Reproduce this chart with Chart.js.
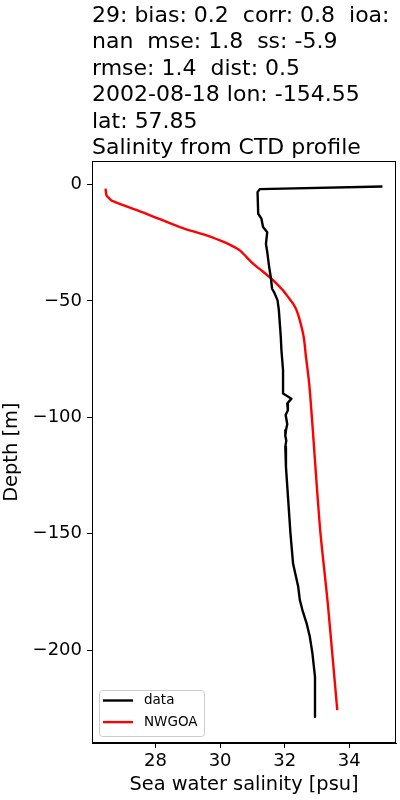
<!DOCTYPE html>
<html>
<head>
<meta charset="utf-8">
<script src="https://cdn.jsdelivr.net/npm/chart.js@4/dist/chart.umd.min.js"></script>
<style>
  html, body { margin: 0; padding: 0; background: #fff; }
  canvas { display: block; }
</style>
</head>
<body>
<canvas id="profileChart" width="400" height="800"></canvas>
<script>
// observed CTD profile (salinity vs depth)
const dataDepth = [-0.9, -2.0, -3.3, -12.6, -14.7, -18.3, -20.5, -25.5, -29, -35.5, -39.8, -44.8, -46.2, -49.8, -54, -59.8, -65.5, -71.2, -79.8, -89.8, -92, -94.1, -97, -99, -101.3, -103, -105.6, -108, -110, -112.7, -121.3, -135.6, -149.9, -162.8, -172.8, -178.5, -182.8, -188.5, -194.3, -201.4, -211.5, -228.6];
const dataSal = [35.03, 31.23, 31.16, 31.18, 31.28, 31.33, 31.46, 31.42, 31.46, 31.52, 31.57, 31.61, 31.67, 31.78, 31.82, 31.85, 31.88, 31.90, 31.95, 31.95, 32.21, 32.08, 32.10, 32.03, 32.06, 32.08, 32.04, 32.02, 32.05, 32.02, 32.04, 32.11, 32.18, 32.26, 32.42, 32.47, 32.55, 32.68, 32.78, 32.86, 32.94, 32.94];

// NWGOA model profile
const modelDepth = [-1.8, -4.7, -5.8, -7.2, -12.6, -18.3, -21.9, -25.2, -26.6, -28.3, -31.2, -34, -36.9, -40.5, -42.6, -45.5, -48.4, -51.2, -54.1, -58.4, -65.5, -74, -85.5, -107, -128.5, -149.9, -168.5, -182, -225.8];
const modelSal = [26.45, 26.48, 26.55, 26.68, 27.72, 28.75, 29.58, 30.2, 30.4, 30.61, 30.82, 31.02, 31.28, 31.59, 31.75, 31.95, 32.11, 32.26, 32.37, 32.47, 32.59, 32.66, 32.76, 32.88, 32.99, 33.11, 33.25, 33.35, 33.63];

const seriesNames = ["data", "NWGOA"];
const seriesColors = ["#000000", "#ff0000"];

const xTicks = [28, 30, 32, 34];
const yTicks = [0, -50, -100, -150, -200];

const titleLines = [
    "29: bias: 0.2  corr: 0.8  ioa:",
    "nan  mse: 1.8  ss: -5.9",
    "rmse: 1.4  dist: 0.5",
    "2002-08-18 lon: -154.55",
    "lat: 57.85",
    "Salinity from CTD profile"
];

const FONT = "'DejaVu Sans', sans-serif";
const LW = 2.4;

function toPoints(sal, depth) {
    return sal.map((s, i) => ({ x: s, y: depth[i] }));
}

// box around the axes + legend in lower left, like matplotlib
const framePlugin = {
    id: "frame",
    afterDraw(chart) {
        const c = chart.ctx;
        const a = chart.chartArea;
        c.save();
        c.strokeStyle = "#000";
        c.lineWidth = 1;
        c.strokeRect(Math.round(a.left) + 0.5, Math.round(a.top) + 0.5,
            Math.round(a.right - a.left) - 1, Math.round(a.bottom - a.top) - 1);

        // legend
        const bx = a.left + 7, by = a.bottom - 53, bw = 105, bh = 46;
        c.fillStyle = "rgba(255,255,255,0.8)";
        c.strokeStyle = "#cccccc";
        c.beginPath();
        c.roundRect(bx + 0.5, by + 0.5, bw, bh, 3);
        c.fill();
        c.stroke();
        c.font = "13.5px " + FONT;
        c.textBaseline = "middle";
        seriesNames.forEach((name, i) => {
            const ly = by + 10.5 + i * 21.6;
            c.strokeStyle = seriesColors[i];
            c.lineWidth = LW;
            c.beginPath();
            c.moveTo(bx + 4, ly);
            c.lineTo(bx + 34, ly);
            c.stroke();
            c.fillStyle = "#000";
            c.fillText(name, bx + 45, ly);
        });
        c.restore();
    }
};

const minus = v => String(v).replace("-", "\u2212");

new Chart(document.getElementById("profileChart"), {
    type: "scatter",
    data: {
        datasets: [
            {
                label: seriesNames[0],
                data: toPoints(dataSal, dataDepth),
                showLine: true,
                borderColor: seriesColors[0],
                backgroundColor: seriesColors[0],
                borderWidth: LW,
                borderJoinStyle: "round",
                pointRadius: 0,
                tension: 0
            },
            {
                label: seriesNames[1],
                data: toPoints(modelSal, modelDepth),
                showLine: true,
                borderColor: seriesColors[1],
                backgroundColor: seriesColors[1],
                borderWidth: LW,
                borderJoinStyle: "round",
                pointRadius: 0,
                tension: 0.3
            }
        ]
    },
    options: {
        responsive: false,
        animation: false,
        devicePixelRatio: 1,
        layout: { padding: { left: 0, right: 4, top: 0, bottom: 0 } },
        plugins: {
            legend: { display: false },
            tooltip: { enabled: false },
            title: {
                display: true,
                text: titleLines,
                align: "start",
                fullSize: false,
                color: "#000",
                font: { family: FONT, size: 22, weight: "normal", lineHeight: 1.2 },
                padding: { top: 3, bottom: 0 }
            }
        },
        scales: {
            x: {
                type: "linear",
                min: 26.03,
                max: 35.45,
                afterBuildTicks: s => { s.ticks = xTicks.map(v => ({ value: v })); },
                afterFit: s => { s.height = 57; },
                grid: { drawOnChartArea: false, drawTicks: true, tickLength: 5, color: "#000" },
                border: { display: true, color: "#000" },
                ticks: {
                    color: "#000",
                    padding: 3,
                    maxRotation: 0,
                    font: { family: FONT, size: 18 },
                    callback: v => minus(v)
                },
                title: {
                    display: true,
                    text: "Sea water salinity [psu]",
                    color: "#000",
                    font: { family: FONT, size: 19.4 },
                    padding: { top: 0, bottom: 3 }
                }
            },
            y: {
                type: "linear",
                min: -239.9,
                max: 9.9,
                afterBuildTicks: s => { s.ticks = yTicks.map(v => ({ value: v })); },
                afterFit: s => { s.width = 92; },
                grid: { drawOnChartArea: false, drawTicks: true, tickLength: 5, color: "#000" },
                border: { display: true, color: "#000" },
                ticks: {
                    color: "#000",
                    padding: 5,
                    font: { family: FONT, size: 18 },
                    callback: v => minus(v)
                },
                title: {
                    display: true,
                    text: "Depth [m]",
                    color: "#000",
                    font: { family: FONT, size: 19.4 },
                    padding: { top: 0, bottom: 0 }
                }
            }
        }
    },
    plugins: [framePlugin]
});
</script>
</body>
</html>
